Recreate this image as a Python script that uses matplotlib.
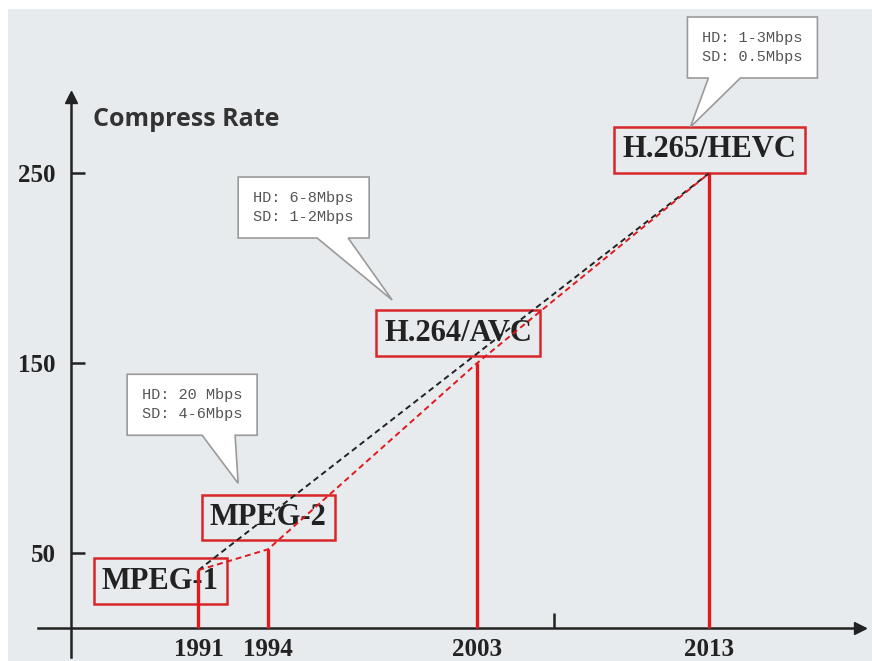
import matplotlib
matplotlib.use("Agg")
import matplotlib.pyplot as plt
from matplotlib.patches import Polygon
from matplotlib.transforms import Affine2D, ScaledTranslation

# data
years = [1991, 1994, 2003, 2013]
rates = [41, 52, 150, 250]
codecs = ["MPEG-1", "MPEG-2", "H.264/AVC", "H.265/HEVC"]
bitrates = [None, "HD: 20 Mbps\nSD: 4-6Mbps", "HD: 6-8Mbps\nSD: 1-2Mbps", "HD: 1-3Mbps\nSD: 0.5Mbps"]
rate_ticks = [50, 150, 250]

# layout, pixel offsets from each data point (y up)
label_off = [(-38, -11), (0, 32), (-19, 30), (0, 23)]
# callout: box left, right, top, bottom, pointer base x1, x2, tip x, tip y
callout_geo = [None,
               (-141, -11, 175, 114, -66, -33, -30, 66),
               (-239, -108, 186, 125, -160, -129, -85, 63),
               (-22, 108, 156, 95, -1, 31, -19, 46)]

plt.rcParams['font.family'] = 'Liberation Serif'
plt.rcParams['font.weight'] = 'bold'

fig = plt.figure(figsize=(8.72, 6.61), dpi=100, facecolor='white')
ax = fig.add_axes([8 / 872, 0, 864 / 872, 652 / 661])
ax.set_facecolor('#e8ebee')
ax.set_xlim(1982.8, 2020.0)
ax.set_ylim(-6.8, 336.3)

x0, y0 = 1985.5, 10.5  # where the axes cross
axc = '#222222'
for s in ['top', 'right']:
    ax.spines[s].set_visible(False)
ax.spines['left'].set_position(('data', x0))
ax.spines['left'].set_bounds(-4.7, 288)
ax.spines['bottom'].set_position(('data', y0))
ax.spines['bottom'].set_bounds(1984.1, 2019.3)
for s in ['left', 'bottom']:
    ax.spines[s].set_linewidth(1.8)
    ax.spines[s].set_color(axc)
ax.plot([x0], [290], marker='^', ms=9, color=axc, clip_on=False)
ax.plot([2019.5], [y0], marker='>', ms=9, color=axc, clip_on=False)

ax.set_xticks(years, labels=[str(y) for y in years])
ax.set_xticks([2006.3], minor=True)
ax.set_yticks(rate_ticks)
ax.tick_params(axis='x', which='major', direction='in', length=5, width=1.8,
               color=axc, labelsize=18, pad=7, labelcolor=axc)
ax.tick_params(axis='x', which='minor', direction='in', length=11, width=1.8, color=axc)
ax.tick_params(axis='y', direction='in', length=10, width=1.8, color=axc,
               labelsize=18, pad=11, labelcolor=axc)

ax.text(85 / 864, 1 - 111 / 652, "Compress Rate", transform=ax.transAxes,
        ha='left', va='center', fontsize=18, fontfamily='Open Sans',
        fontweight='bold', color='#333333')

# red stems
ax.vlines(years, y0, rates, color='#e0191c', lw=2.4, zorder=4)
# trend lines
ax.plot([years[0], years[-1]], [rates[0], rates[-1]], ls=(0, (3, 2)),
        color='#222222', lw=1.4, zorder=4)
ax.plot(years, rates, ls=(0, (3, 2)), color='#e0191c', lw=1.4, zorder=4)

for i, name in enumerate(codecs):
    ax.annotate(name, xy=(years[i], rates[i]), xytext=label_off[i],
                textcoords='offset pixels', ha='center', va='center',
                fontsize=22, color='#222222', zorder=2,
                bbox=dict(boxstyle='square,pad=0.27', fc='none',
                          ec='#d9262a', lw=1.8))
    if bitrates[i] is None:
        continue
    L, R, T, B, b1, b2, tx, ty = callout_geo[i]
    trans = Affine2D() + ScaledTranslation(years[i], rates[i], ax.transData)
    shape = [(L, T), (R, T), (R, B), (b2, B), (tx, ty), (b1, B), (L, B)]
    ax.add_patch(Polygon(shape, closed=True, fc='white', ec='#9a9a9a',
                         lw=1.2, transform=trans, zorder=5, clip_on=False))
    ax.text((L + R) / 2, (T + B) / 2, bitrates[i], transform=trans,
            ha='center', va='center', fontsize=11,
            fontfamily='Liberation Mono', fontweight='normal',
            color='#555555', linespacing=1.45, zorder=6)

fig.savefig('out.png', dpi=100, facecolor=fig.get_facecolor())
